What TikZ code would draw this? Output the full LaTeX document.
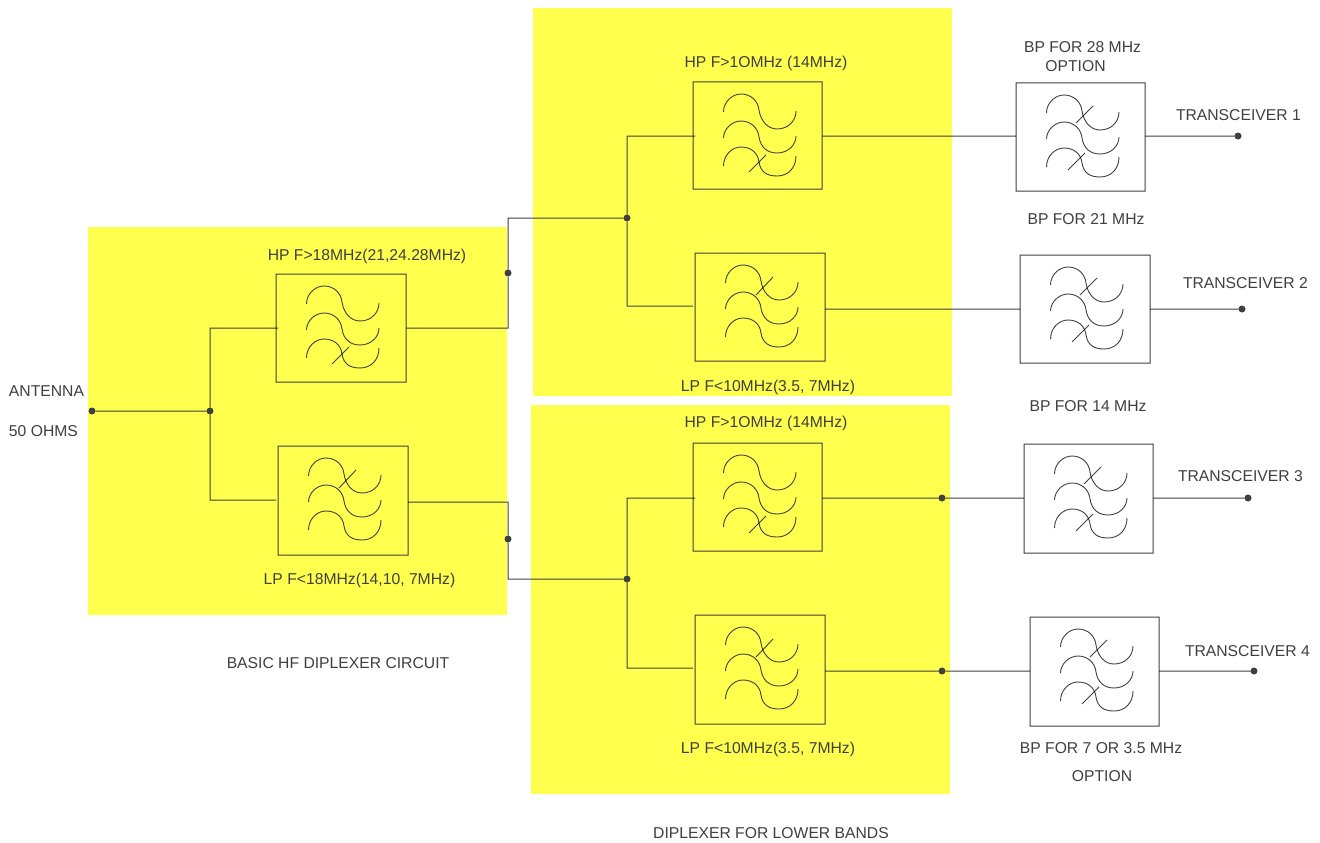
\documentclass[tikz,border=0pt]{standalone}
\usepackage{fontspec}
\setmainfont{Liberation Sans}
\usetikzlibrary{calc}
\definecolor{bandyellow}{HTML}{FFFF4D}
\definecolor{ink}{HTML}{404040}
\tikzset{
  band/.style={fill=bandyellow,draw=none},
  filterbox/.style={draw=ink,line width=1pt,rectangle,inner sep=0pt,outer sep=0pt},
  wire/.style={draw=ink,line width=1pt},
  symline/.style={draw=ink,line width=0.9pt},
  joint/.style={circle,fill=ink,draw=none,inner sep=0pt,outer sep=0pt,minimum size=7pt},
  lab/.style={text=ink,inner sep=0pt,outer sep=0pt,anchor=base,font=\fontsize{15.7}{18}\selectfont},
  labl/.style={lab,anchor=base west}
}
% one wave of the filter symbol: start, peak, middle, trough, end heights
\newcommand{\fwave}[5]{
  \draw[symline] (30.5,#1) .. controls (30.5,{#2+8}) and (39,#2) .. (48,#2)
     .. controls (58,#2) and (65,{#3-9}) .. (66,#3)
     .. controls (67.5,{#3+10}) and (74,#4) .. (84,#4)
     .. controls (95,#4) and (103,{#4-8}) .. (103,#5);
}
\newcommand{\fwaves}{\fwave{30}{12}{28}{47}{29}\fwave{56}{39}{55}{71}{54}\fwave{84}{65}{80}{94}{74}}
\newcommand{\filt}[6]{% name, x0, y0, x1, y1, cross lines
  \node[filterbox,minimum width={(#4-#2)*1pt},minimum height={(#5-#3)*1pt}] (#1) at ({(#2+#4)/2},{(#3+#5)/2}) {};
  \begin{scope}[shift={(#2,#3)}]\fwaves #6\end{scope}
}
\newcommand{\hpx}{\draw[symline] (56,90) -- (73,73);}
\newcommand{\lpx}{\draw[symline] (61,42) -- (78,24);}
\newcommand{\bpx}{\draw[symline] (60,40) -- (77,23);\draw[symline] (52,87) -- (69,70);}
\begin{document}
\begin{tikzpicture}[x=1pt,y=-1pt]
\useasboundingbox (0,0) rectangle (1320,843);
\fill[white] (0,0) rectangle (1320,843);
\fill[band] (88,227) rectangle (507,615);
\fill[band] (533,8) rectangle (952,396);
\fill[band] (531,405) rectangle (950,794);
\begin{scope}[blend group=multiply]
% filters
\filt{hpa}{276}{274}{406}{382}{\hpx}
\filt{lpa}{278}{446}{408}{555}{\lpx}
\filt{hpb}{693}{82}{822}{189}{\hpx}
\filt{lpb}{695}{253}{825}{361}{\lpx}
\filt{hpc}{693}{443}{822}{551}{\hpx}
\filt{lpc}{695}{615}{825}{724}{\lpx}
\filt{bpa}{1016}{83}{1145}{191}{\bpx}
\filt{bpb}{1020}{255}{1150}{363}{\bpx}
\filt{bpc}{1024}{444}{1153}{553}{\bpx}
\filt{bpd}{1030}{617}{1159}{726}{\bpx}
% joints
\node[joint] (ant) at (92,411) {};
\node[joint] (ja) at (210,411) {};
\node[joint] (jb) at (508,273) {};
\node[joint] (jc) at (627,218) {};
\node[joint] (jd) at (508,539) {};
\node[joint] (je) at (627,579) {};
\node[joint] (jf) at (942,498) {};
\node[joint] (jg) at (942,671) {};
\node[joint] (ta) at (1238,136) {};
\node[joint] (tb) at (1242,309) {};
\node[joint] (tc) at (1248,498) {};
\node[joint] (td) at (1254,671) {};
% wires, first stage
\draw[wire] (ant) -- (ja);
\coordinate (ua) at (210,328);
\coordinate (la) at (210,500);
\draw[wire] (ja) -- (ua) -- ($(hpa.west |- ua)+(2,0)$);
\draw[wire] (ja) -- (la) -- ($(lpa.west |- la)+(-2,0)$);
\coordinate (ra) at (508,328);
\coordinate (rb) at (508,218);
\draw[wire] (hpa.east |- ra) -- (ra) -- (jb) -- (rb) -- (jc);
\coordinate (rc) at (508,502);
\coordinate (rd) at (508,579);
\draw[wire] (lpa.east |- rc) -- (rc) -- (jd) -- (rd) -- (je);
% wires, upper diplexer
\coordinate (ub) at (627,136);
\coordinate (lb) at (627,306);
\draw[wire] (jc) -- (ub) -- ($(hpb.west |- ub)+(2,0)$);
\draw[wire] (jc) -- (lb) -- ($(lpb.west |- lb)+(-2,0)$);
\draw[wire] (hpb.east |- ub) -- (bpa.west |- ub);
\coordinate (lc) at (800,309);
\draw[wire] (lpb.east |- lc) -- (bpb.west |- lc);
\draw[wire] (bpa.east |- ta) -- (ta);
\draw[wire] (bpb.east |- tb) -- (tb);
% wires, lower diplexer
\coordinate (uc) at (627,498);
\coordinate (ld) at (627,668);
\draw[wire] (je) -- (uc) -- ($(hpc.west |- uc)+(2,0)$);
\draw[wire] (je) -- (ld) -- ($(lpc.west |- ld)+(-2,0)$);
\draw[wire] (hpc.east |- jf) -- (jf);
\draw[wire] (jf) -- (bpc.west |- jf);
\draw[wire] (lpc.east |- jg) -- (jg);
\draw[wire] (jg) -- (bpd.west |- jg);
\draw[wire] (bpc.east |- tc) -- (tc);
\draw[wire] (bpd.east |- td) -- (td);
% labels
\node[labl] (t1) at (9,396) {ANTENNA};
\node[labl] (t2) at (9,436) {50 OHMS};
\node[lab] (t3) at (367,260) {HP F>18MHz(21,24.28MHz)};
\node[lab] (t4) at (359.5,584) {LP F<18MHz(14,10, 7MHz)};
\node[lab] (t5) at (338,668) {BASIC HF DIPLEXER CIRCUIT};
\node[lab] (t6) at (766,67) {HP F>1OMHz (14MHz)};
\node[lab] (t7) at (768,391) {LP F<10MHz(3.5, 7MHz)};
\node[lab] (t8) at (766,427) {HP F>1OMHz (14MHz)};
\node[lab] (t9) at (768,753) {LP F<10MHz(3.5, 7MHz)};
\node[lab] (t10) at (771,838) {DIPLEXER FOR LOWER BANDS};
\node[lab] (t11) at (1082.5,53) {BP FOR 28 MHz};
\node[lab] (t12) at (1075.5,71) {OPTION};
\node[lab] (t13) at (1086,224) {BP FOR 21 MHz};
\node[lab] (t14) at (1088,411) {BP FOR 14 MHz};
\node[lab] (t15) at (1101,753) {BP FOR 7 OR 3.5 MHz};
\node[lab] (t16) at (1102,781) {OPTION};
\node[labl] (t17) at (1176,120) {TRANSCEIVER 1};
\node[labl] (t18) at (1183,288) {TRANSCEIVER 2};
\node[labl] (t19) at (1178,481.5) {TRANSCEIVER 3};
\node[labl] (t20) at (1185,656) {TRANSCEIVER 4};
\end{scope}
\end{tikzpicture}
\end{document}
